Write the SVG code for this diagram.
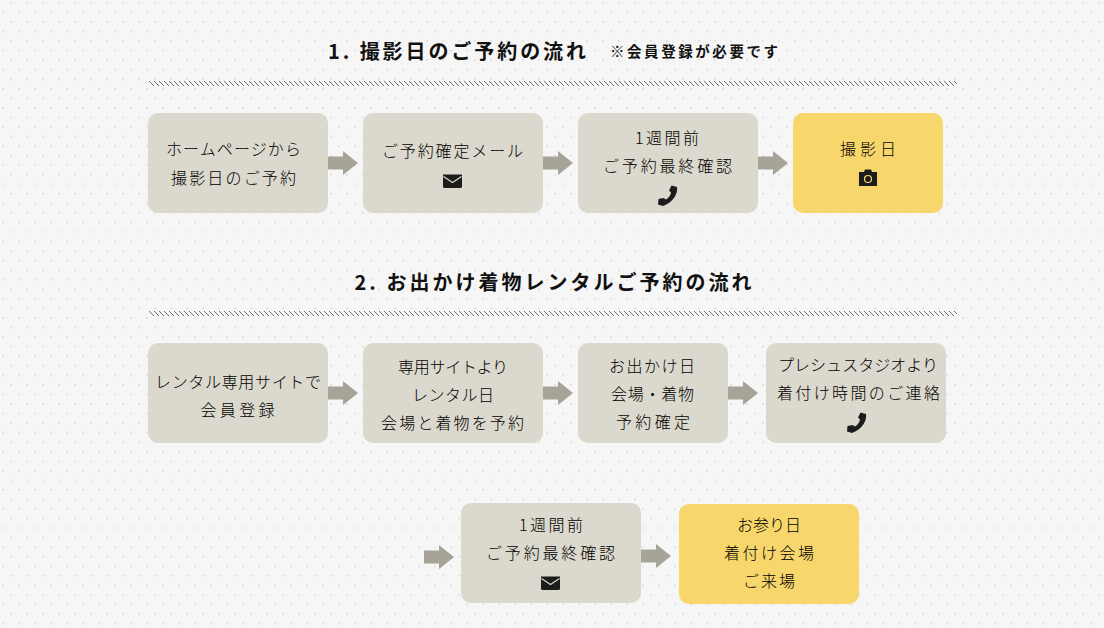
<svg xmlns="http://www.w3.org/2000/svg" width="1104" height="628" viewBox="0 0 1104 628">
<style>
text{font-family:"Noto Sans CJK JP","Noto Sans",sans-serif;fill:#000;text-anchor:middle}
.t{font-size:16px;font-weight:300}
.h{font-size:20px;font-weight:700;fill:#111}
.n{font-size:14.5px;font-weight:700;fill:#111}
.g{fill:#dbd8cd}
.y{fill:#f7d66c}
.ar{fill:#a8a398}
.i{fill:#1c1c1c}
</style>
<defs>
<pattern id="dots" width="16" height="19.1" patternUnits="userSpaceOnUse" x="1" y="2">
<rect x="9" y="0" width="2" height="1.5" fill="#dcdcdc"/>
<rect x="1" y="9.55" width="2" height="1.5" fill="#dcdcdc"/>
</pattern>
<pattern id="hatch" width="5" height="5" patternUnits="userSpaceOnUse" x="149" y="81">
<path d="M0 0h1v1h-1zM1 1h1v1h-1zM2 2h1v1h-1zM3 3h1v1h-1zM4 4h1v1h-1z" fill="#6e6e6e" shape-rendering="crispEdges"/>
</pattern>
<path id="arrow" class="ar" d="M0-6.500H15V-12L30 0L15 12V6.500H0Z"/>
<g id="mail"><path class="i" d="M-9.500-6.500H9.500V5.500Q9.500 7 8 7H-8Q-9.500 7-9.500 5.500Z"/><path d="M-9-4.500L0 1.500L9-4.500" fill="none" stroke="#dbd8cd" stroke-width="1.200"/></g>
<path id="phone" class="i" d="M3.500-10.500L9-9C10-3 6 6-5 10L-10 8.500L-9.500 3L-4.500 2L-2 3.500C.5 2 2.500-.5 3-3.500L1-5.500Z"/>
</defs>
<rect width="1104" height="628" fill="#f6f6f6"/>
<rect width="1104" height="628" fill="url(#dots)"/>
<text class="h" x="457" y="59" textLength="258">1. 撮影日のご予約の流れ</text>
<text class="n" x="694" y="57" textLength="168">※会員登録が必要です</text>
<rect x="149" y="81" width="808" height="5" fill="url(#hatch)"/>
<text class="h" x="553" y="290" textLength="397">2. お出かけ着物レンタルご予約の流れ</text>
<rect x="149" y="311" width="808" height="5" fill="url(#hatch)"/>
<g id="connectors">
<use href="#arrow" x="328" y="163"/>
<use href="#arrow" x="543" y="163"/>
<use href="#arrow" x="758" y="163"/>
<use href="#arrow" x="328" y="393"/>
<use href="#arrow" x="543" y="393"/>
<use href="#arrow" x="728" y="393"/>
<use href="#arrow" x="424" y="557"/>
<use href="#arrow" x="641" y="556"/>
</g>
<g id="n1"><rect class="g" x="148" y="113" width="180" height="100" rx="10"/><text class="t" x="233.500" y="155" textLength="135">ホームページから</text><text class="t" x="233.500" y="184" textLength="125">撮影日のご予約</text></g>
<g id="n2"><rect class="g" x="363" y="113" width="180" height="100" rx="10"/><text class="t" x="452.500" y="157" textLength="141">ご予約確定メール</text><use href="#mail" x="452.500" y="181"/></g>
<g id="n3"><rect class="g" x="578" y="113" width="180" height="100" rx="10"/><text class="t" x="667" y="144" textLength="64">1週間前</text><text class="t" x="667.500" y="172" textLength="129">ご予約最終確認</text><use href="#phone" x="668" y="196"/></g>
<g id="n4"><rect class="y" x="793" y="113" width="150" height="100" rx="10"/><text class="t" x="868" y="155" textLength="56">撮影日</text><g transform="translate(868,178)"><path class="i" d="M-9-6H-4L-3-8.500H3L4-6H9V8H-9Z"/><circle cx="0" cy="1" r="3.500" fill="none" stroke="#f7d66c" stroke-width="1.200"/></g></g>
<g id="n5"><rect class="g" x="148" y="343" width="180" height="100" rx="10"/><text class="t" x="238" y="388" textLength="166">レンタル専用サイトで</text><text class="t" x="237.500" y="416" textLength="74">会員登録</text></g>
<g id="n6"><rect class="g" x="363" y="343" width="180" height="100" rx="10"/><text class="t" x="453" y="373" textLength="110">専用サイトより</text><text class="t" x="453" y="401" textLength="82">レンタル日</text><text class="t" x="452.500" y="429" textLength="143">会場と着物を予約</text></g>
<g id="n7"><rect class="g" x="578" y="343" width="150" height="100" rx="10"/><text class="t" x="652" y="372" textLength="86">お出かけ日</text><text class="t" x="652.500" y="400" textLength="83">会場・着物</text><text class="t" x="653" y="428" textLength="74">予約確定</text></g>
<g id="n8"><rect class="g" x="766" y="343" width="180" height="100" rx="10"/><text class="t" x="858" y="371" textLength="160">プレシュスタジオより</text><text class="t" x="858.500" y="399" textLength="163">着付け時間のご連絡</text><use href="#phone" x="857" y="423"/></g>
<g id="n9"><rect class="g" x="461" y="503" width="180" height="100" rx="10"/><text class="t" x="551" y="531" textLength="64">1週間前</text><text class="t" x="550.500" y="559" textLength="129">ご予約最終確認</text><use href="#mail" x="550.500" y="583"/></g>
<g id="n10"><rect class="y" x="679" y="504" width="180" height="100" rx="10"/><text class="t" x="769" y="531" textLength="64">お参り日</text><text class="t" x="769" y="559" textLength="90">着付け会場</text><text class="t" x="769" y="587" textLength="52">ご来場</text></g>
</svg>
